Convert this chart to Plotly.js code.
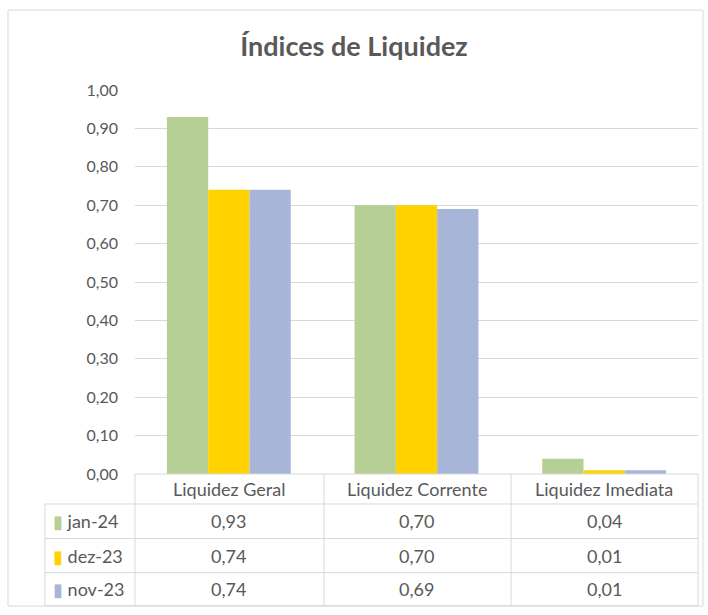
<!DOCTYPE html>
<html>
<head>
<meta charset="utf-8">
<script src="https://cdn.plot.ly/plotly-3.0.1.min.js"></script>
<style>
  html, body { margin: 0; padding: 0; background: #fff; }
  #chart { width: 708px; height: 615px; }
</style>
</head>
<body>
<div id="chart"></div>
<script>
// data
const categories = ['Liquidez Geral', 'Liquidez Corrente', 'Liquidez Imediata'];
const seriesNames = ['jan-24', 'dez-23', 'nov-23'];
const jan24 = [0.93, 0.70, 0.04];
const dez23 = [0.74, 0.70, 0.01];
const nov23 = [0.74, 0.69, 0.01];
const colors = ['#b5cf95', '#ffd200', '#a7b6d8'];

const allValues = [jan24, dez23, nov23];
const textColor = '#595959';
const lineColor = '#d9d9d9';
const font = 'Lato, "Open Sans", sans-serif';

const traces = allValues.map((vals, i) => ({
    type: 'bar',
    name: seriesNames[i],
    x: categories,
    y: vals,
    marker: { color: colors[i] },
    hoverinfo: 'x+y+name'
}));

// data table under the plot (paper coords: y=0 is the category axis)
const rowEdges = [0, -0.078, -0.168, -0.257, -0.343];
const colEdges = [-0.16, 0, 0.3357, 0.668, 1];

const shapes = [];
const line = { color: lineColor, width: 1 };
// outer chart border
shapes.push({ type: 'rect', xref: 'paper', yref: 'paper',
    x0: -0.2256, x1: 1.0089, y0: -0.344, y1: 1.208, line: line });
// horizontal lines of the table
rowEdges.forEach((y, i) => {
    shapes.push({ type: 'line', xref: 'paper', yref: 'paper',
        x0: i === 0 ? 0 : colEdges[0], x1: 1, y0: y, y1: y, line: line });
});
// vertical lines of the table
colEdges.forEach((x, i) => {
    shapes.push({ type: 'line', xref: 'paper', yref: 'paper',
        x0: x, x1: x, y0: i === 0 ? rowEdges[1] : rowEdges[0], y1: rowEdges[4], line: line });
});

const annotations = [];
const cellFont = { family: font, size: 18, color: textColor };
categories.forEach((c, j) => {
    annotations.push({ xref: 'x', yref: 'paper', x: c,
        y: (rowEdges[0] + rowEdges[1]) / 2, text: c, showarrow: false,
        font: cellFont, xanchor: 'center', yanchor: 'middle' });
});
allValues.forEach((vals, i) => {
    const yMid = (rowEdges[i + 1] + rowEdges[i + 2]) / 2;
    annotations.push({ xref: 'paper', yref: 'paper', x: -0.15, y: yMid,
        text: '<span style="color:' + colors[i] + '">▮</span> ' + seriesNames[i],
        showarrow: false, font: cellFont, xanchor: 'left', yanchor: 'middle' });
    vals.forEach((v, j) => {
        annotations.push({ xref: 'x', yref: 'paper', x: categories[j], y: yMid,
            text: v.toFixed(2).replace('.', ','), showarrow: false,
            font: cellFont, xanchor: 'center', yanchor: 'middle' });
    });
});

Plotly.newPlot('chart', traces, {
    width: 708,
    height: 615,
    margin: { l: 135, r: 10, t: 90, b: 141 },
    paper_bgcolor: '#ffffff',
    plot_bgcolor: '#ffffff',
    separators: ',.',
    font: { family: font, color: textColor },
    title: {
        text: '<b>Índices de Liquidez</b>',
        font: { family: font, size: 27, color: textColor },
        x: 0.5, xanchor: 'center', y: 0.925, yanchor: 'middle'
    },
    barmode: 'group',
    bargap: 0.34,
    bargroupgap: 0,
    showlegend: false,
    xaxis: {
        showticklabels: false,
        showgrid: false,
        zeroline: false,
        showline: false,
        fixedrange: true
    },
    yaxis: {
        range: [0, 1],
        dtick: 0.1,
        tickformat: '.2f',
        showgrid: true,
        gridcolor: lineColor,
        gridwidth: 1,
        zeroline: false,
        showline: false,
        ticks: '',
        ticklabelstandoff: 16,
        tickfont: { family: font, size: 16, color: textColor },
        fixedrange: true
    },
    shapes: shapes,
    annotations: annotations
}, { displayModeBar: false, staticPlot: true });
</script>
</body>
</html>
